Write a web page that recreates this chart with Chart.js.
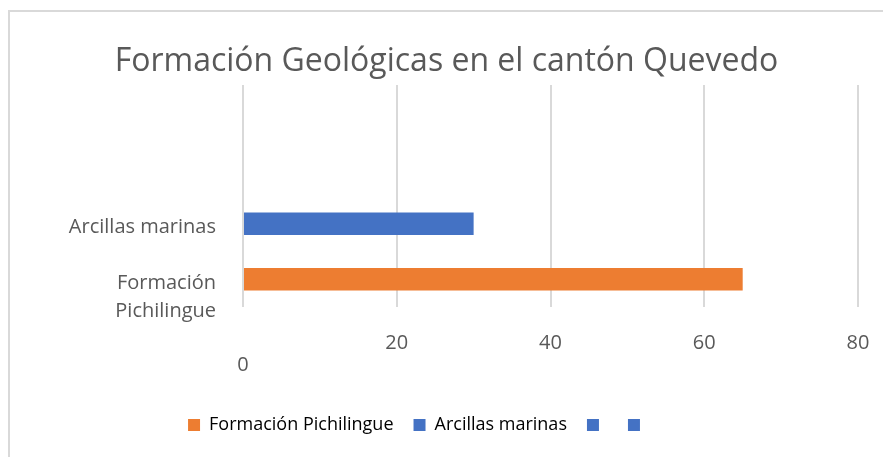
<!DOCTYPE html>
<html lang="es">
<head>
<meta charset="utf-8">
<title>Formación Geológicas en el cantón Quevedo</title>
<script src="https://cdn.jsdelivr.net/npm/chart.js@4.4.1/dist/chart.umd.min.js"></script>
<style>
    html, body { margin: 0; padding: 0; background: #fff; overflow: hidden; }
    .marco { position: absolute; left: 8px; top: 10px; border-left: 2px solid #d9d9d9; border-top: 2px solid #d9d9d9; }
    canvas { display: block; }
</style>
</head>
<body>
<div class="marco"><canvas id="formacionesChart" width="873" height="445"></canvas></div>
<script>
// Datos (orden de Excel: la primera categoría queda abajo)
const categorias = ['Formación Pichilingue', 'Arcillas marinas', '', ''];
const valores = [65, 30, null, null];
const coloresBarras = ['#ED7D31', '#4472C4', '#4472C4', '#4472C4'];
const nombresLeyenda = ['Formación Pichilingue', 'Arcillas marinas', '', ''];
const marcasX = [0, 20, 40, 60, 80];

const fuente = "'Open Sans', 'Noto Sans', sans-serif";
const gris = '#595959';

// La leyenda de Excel no está centrada en todo el ancho
const moverLeyenda = {
    id: 'moverLeyenda',
    afterLayout(chart) {
        const dx = -28;
        chart.legend.left += dx;
        chart.legend.right += dx;
    }
};

const config = {
    type: 'bar',
    data: {
        labels: categorias,
        datasets: [{
            label: 'Formación Geológicas',
            data: valores,
            backgroundColor: coloresBarras,
            borderWidth: 0,
            barPercentage: 0.405,
            categoryPercentage: 1
        }]
    },
    options: {
        indexAxis: 'y',
        responsive: false,
        animation: false,
        layout: { padding: { bottom: 13 } },
        plugins: {
            title: {
                display: true,
                text: 'Formación Geológicas en el cantón Quevedo',
                color: gris,
                font: { family: fuente, size: 32, weight: 'normal' },
                padding: { top: 31, bottom: 3.6 }
            },
            legend: {
                position: 'bottom',
                onClick: null,
                labels: {
                    boxWidth: 12,
                    boxHeight: 12,
                    padding: 20,
                    color: gris,
                    font: { family: fuente, size: 18 },
                    generateLabels: () => nombresLeyenda.map((texto, i) => ({
                        text: texto,
                        fillStyle: coloresBarras[i],
                        strokeStyle: coloresBarras[i],
                        lineWidth: 0,
                        hidden: false,
                        index: i
                    }))
                }
            },
            tooltip: { enabled: false }
        },
        scales: {
            x: {
                min: marcasX[0],
                max: marcasX[marcasX.length - 1],
                afterBuildTicks: (scale) => {
                    scale.ticks = marcasX.map(v => ({ value: v }));
                },
                afterFit: (scale) => {
                    scale.height = 89;
                    scale.paddingRight = 25;
                },
                grid: { color: '#d9d9d9', lineWidth: 2, drawTicks: false },
                border: { display: false },
                ticks: {
                    color: gris,
                    padding: 25,
                    font: { family: fuente, size: 20, lineHeight: 1.1 },
                    // en el original el 0 queda una línea más abajo
                    callback: (value) => value === 0 ? ['', '0'] : value
                }
            },
            y: {
                reverse: true,
                afterFit: (scale) => { scale.width = 233; },
                grid: { display: false, drawTicks: false },
                border: { display: false },
                ticks: {
                    autoSkip: false,
                    color: gris,
                    padding: 27,
                    labelOffset: 4,
                    font: { family: fuente, size: 20, lineHeight: 1.4 },
                    callback: function (value) {
                        const texto = this.getLabelForValue(value);
                        return texto.length > 18 ? [''].concat(texto.split(' ')) : texto;
                    }
                }
            }
        }
    },
    plugins: [moverLeyenda]
};

const ctx = document.getElementById('formacionesChart').getContext('2d');
const formacionesChart = new Chart(ctx, config);
</script>
</body>
</html>
